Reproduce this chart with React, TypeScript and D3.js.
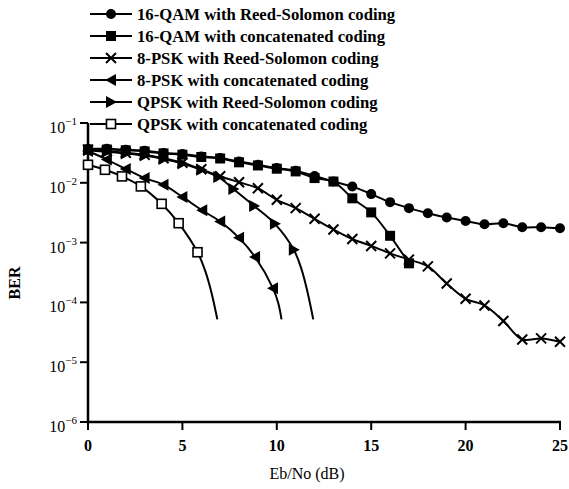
import React from "react";
import * as d3 from "d3";

const W = 569;
const H = 489;

// 16-QAM with Reed-Solomon coding
const qamRsX = [0,1,2,3,4,5,6,7,8,9,10,11,12,13,14,15,16,17,18,19,20,21,22,23,24,25];
const qamRsY = [3.7e-2,3.7e-2,3.57e-2,3.44e-2,3.15e-2,3.03e-2,2.76e-2,2.6e-2,2.27e-2,2.0e-2,1.76e-2,1.59e-2,1.3e-2,1.05e-2,8.67e-3,6.47e-3,4.75e-3,3.77e-3,3.1e-3,2.62e-3,2.3e-3,2.03e-3,2.1e-3,1.81e-3,1.81e-3,1.74e-3];

// 16-QAM with concatenated coding
const qamConcX = [0,1,2,3,4,5,6,7,8,9,10,11,12,13,14,15,16,17];
const qamConcY = [3.6e-2,3.6e-2,3.5e-2,3.35e-2,3.1e-2,2.95e-2,2.7e-2,2.55e-2,2.2e-2,1.95e-2,1.72e-2,1.55e-2,1.2e-2,1.05e-2,5.5e-3,3.2e-3,1.3e-3,4.5e-4];

// 8-PSK with Reed-Solomon coding
const pskRsX = [0,1,2,3,4,5,6,7,8,9,10,11,12,13,14,15,16,17,18,19,20,21,22,23,24,25];
const pskRsY = [3.57e-2,3.37e-2,3.18e-2,2.94e-2,2.57e-2,2.16e-2,1.68e-2,1.29e-2,1.02e-2,8.1e-3,5.2e-3,3.77e-3,2.5e-3,1.66e-3,1.15e-3,8.8e-4,6.6e-4,5.2e-4,4.0e-4,2.07e-4,1.15e-4,8.9e-5,4.9e-5,2.4e-5,2.5e-5,2.2e-5];

// 8-PSK with concatenated coding
const pskConcX = [0,1,2,3,4,5,6.05,7,8,8.85,9.8];
const pskConcY = [3.4e-2,2.45e-2,1.7e-2,1.2e-2,9.3e-3,5.8e-3,3.46e-3,2.25e-3,1.2e-3,5.75e-4,1.72e-4];
const pskConcTailX = [10.08,10.25];
const pskConcTailY = [9.7e-5,5.2e-5];

// QPSK with Reed-Solomon coding
const qpskRsX = [0,1,2,3,4,5,6,6.9,7.7,8.8,9.9,10.9];
const qpskRsY = [3.5e-2,3.3e-2,3.1e-2,2.85e-2,2.5e-2,2.1e-2,1.65e-2,1.25e-2,7.9e-3,4.1e-3,2.06e-3,7.6e-4];
const qpskRsTailX = [11.32,11.64,11.93];
const qpskRsTailY = [3.5e-4,1.42e-4,5.2e-5];

// QPSK with concatenated coding
const qpskConcX = [0,0.9,1.8,2.8,3.9,4.8,5.8];
const qpskConcY = [2.0e-2,1.65e-2,1.28e-2,8.7e-3,4.45e-3,2.11e-3,6.9e-4];
const qpskConcTailX = [6.19,6.46,6.67,6.85];
const qpskConcTailY = [3.5e-4,1.83e-4,9.7e-5,5.2e-5];

const xTicks = [0,5,10,15,20,25];
const yTickExps = [-1,-2,-3,-4,-5,-6];
const legendLabels = [
  "16-QAM with Reed-Solomon coding",
  "16-QAM with concatenated coding",
  "8-PSK with Reed-Solomon coding",
  "8-PSK with concatenated coding",
  "QPSK with Reed-Solomon coding",
  "QPSK with concatenated coding",
];
const markerKinds = ["circle","square","cross","left","right","open"];

const x = d3.scaleLinear().domain([0, 25]).range([88, 560]);
const y = d3.scaleLog().domain([1e-6, 1e-1]).range([422, 123]);

type Pt = [number, number];
const zip = (xs: number[], ys: number[]): Pt[] => xs.map((v, i) => [v, ys[i]]);

const series = [
  { pts: zip(qamRsX, qamRsY), tail: [] as Pt[], kind: "circle" },
  { pts: zip(qamConcX, qamConcY), tail: [] as Pt[], kind: "square" },
  { pts: zip(pskRsX, pskRsY), tail: [] as Pt[], kind: "cross" },
  { pts: zip(pskConcX, pskConcY), tail: zip(pskConcTailX, pskConcTailY), kind: "left" },
  { pts: zip(qpskRsX, qpskRsY), tail: zip(qpskRsTailX, qpskRsTailY), kind: "right" },
  { pts: zip(qpskConcX, qpskConcY), tail: zip(qpskConcTailX, qpskConcTailY), kind: "open" },
];

const line = d3
  .line<Pt>()
  .x((d) => x(d[0]))
  .y((d) => y(d[1]))
  .curve(d3.curveCatmullRom.alpha(0.5));

function Marker({ kind, cx, cy }: { kind: string; cx: number; cy: number }) {
  switch (kind) {
    case "circle":
      return <circle cx={cx} cy={cy} r={5} fill="#000" />;
    case "square":
      return <rect x={cx - 5} y={cy - 5} width={10} height={10} fill="#000" />;
    case "cross":
      return (
        <path
          d={`M${cx - 5},${cy - 5}L${cx + 5},${cy + 5}M${cx - 5},${cy + 5}L${cx + 5},${cy - 5}`}
          stroke="#000"
          strokeWidth={2}
        />
      );
    case "left":
      return <path d={`M${cx - 6},${cy}L${cx + 5},${cy - 6}L${cx + 5},${cy + 6}Z`} fill="#000" />;
    case "right":
      return <path d={`M${cx + 6},${cy}L${cx - 5},${cy - 6}L${cx - 5},${cy + 6}Z`} fill="#000" />;
    case "open":
      return (
        <rect x={cx - 4.5} y={cy - 4.5} width={9} height={9} fill="#fff" stroke="#000" strokeWidth={1.6} />
      );
  }
  return null;
}

export default function App() {
  const font = "'Liberation Serif', 'Times New Roman', serif";
  const legendY = [14, 36, 58, 80, 102, 124];
  return (
    <svg
      width={W}
      height={H}
      style={{ position: "absolute", left: 0, top: 0, background: "#fff" }}
      fontFamily={font}
      fontWeight="bold"
    >
      <rect width={W} height={H} fill="#fff" />
      {/* axes */}
      <line x1={x(0)} x2={x(0)} y1={y(1e-1)} y2={y(1e-6) + 1} stroke="#000" strokeWidth={2.5} />
      <line x1={x(0) - 1} x2={x(25) + 1} y1={y(1e-6)} y2={y(1e-6)} stroke="#000" strokeWidth={2.5} />
      {xTicks.map((t) => (
        <g key={t}>
          <line x1={x(t)} x2={x(t)} y1={y(1e-6)} y2={y(1e-6) + 8} stroke="#000" strokeWidth={2} />
          <text x={x(t)} y={451} textAnchor="middle" fontSize={16}>
            {t}
          </text>
        </g>
      ))}
      {yTickExps.map((e) => (
        <g key={e}>
          <line x1={x(0) - 8} x2={x(0)} y1={y(Math.pow(10, e))} y2={y(Math.pow(10, e))} stroke="#000" strokeWidth={2} />
          <text x={77} y={y(Math.pow(10, e)) + 10} textAnchor="end" fontSize={16} fontWeight="normal">
            10
            <tspan dy={-8} fontSize={11}>
              {"\u2212" + Math.abs(e)}
            </tspan>
          </text>
        </g>
      ))}
      <text
        transform={`translate(20,283) rotate(-90)`}
        textAnchor="middle"
        fontSize={16}
      >
        BER
      </text>
      <text x={307} y={479} textAnchor="middle" fontSize={16} fontWeight="normal">
        Eb/No (dB)
      </text>
      {/* lines */}
      {series.map((s, i) => (
        <path key={i} d={line([...s.pts, ...s.tail]) || ""} fill="none" stroke="#000" strokeWidth={2} />
      ))}
      {/* markers */}
      {series.map((s, i) => (
        <g key={i}>
          {s.pts.map((p, j) => (
            <Marker key={j} kind={s.kind} cx={x(p[0])} cy={y(p[1])} />
          ))}
        </g>
      ))}
      {/* legend */}
      {legendLabels.map((lab, i) => (
        <g key={lab}>
          <line x1={90} x2={132} y1={legendY[i]} y2={legendY[i]} stroke="#000" strokeWidth={2} />
          <Marker kind={markerKinds[i]} cx={111} cy={legendY[i]} />
          <text x={137} y={legendY[i] + 5.5} fontSize={16.7}>
            {lab}
          </text>
        </g>
      ))}
    </svg>
  );
}
